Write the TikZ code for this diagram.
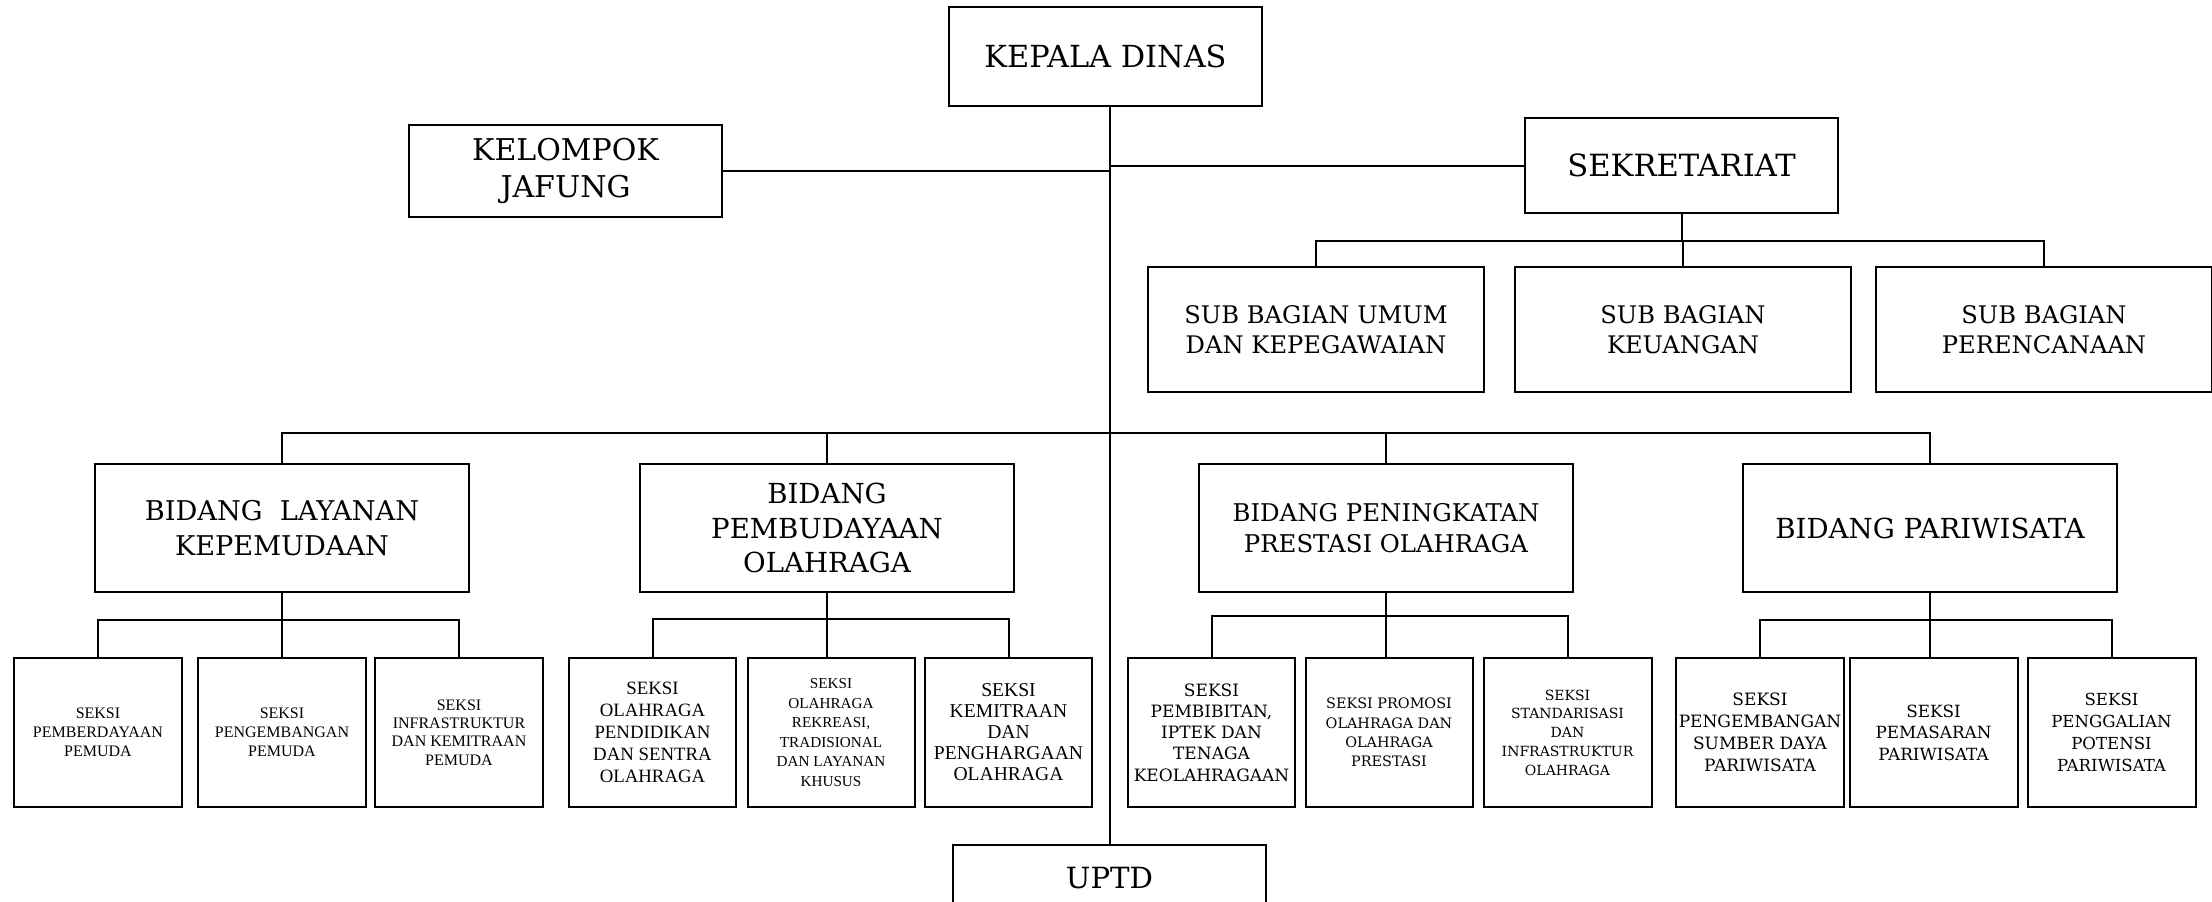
\documentclass[tikz,border=0pt]{standalone}
\usepackage{fontspec}
\setmainfont{DejaVu Serif}
\newfontfamily\tms{Liberation Serif}
\begin{document}
\begin{tikzpicture}[x=0.5pt,y=-0.5pt,
  box/.style={draw=black, line width=1pt, inner sep=0pt, align=center},
  topbox/.style={box, minimum width=156.5pt},
  bidbox/.style={box, minimum width=187pt, minimum height=64pt},
  subbox/.style={box, minimum width=168pt, minimum height=62.5pt, font=\fontsize{12.1}{15}\selectfont},
  sekbox/.style={box, minimum width=84pt, minimum height=74.5pt},
  link/.style={line width=1pt}]
\useasboundingbox (0,0) rectangle (2212,901);
\clip (0,0) rectangle (2212,901);
\fill[white] (0,0) rectangle (2212,901);
% top level
\node[topbox, minimum height=49.5pt, font=\fontsize{15.2}{18.5}\selectfont] (kepala) at (1105.5,56.5) {KEPALA DINAS};
\node[topbox, minimum height=46pt, font=\fontsize{15}{18.5}\selectfont] (kel) at (565.5,171) {KELOMPOK\\JAFUNG};
\node[topbox, minimum height=47.5pt, font=\fontsize{15.3}{18.5}\selectfont] (sekr) at (1681.5,165.5) {SEKRETARIAT};
\node[topbox, minimum height=33.5pt, font=\fontsize{14.6}{18}\selectfont] (uptd) at (1109.5,878.5) {UPTD};
% sub bagian
\node[subbox] (sub1) at (1316,329.5) {SUB BAGIAN UMUM\\DAN KEPEGAWAIAN};
\node[subbox] (sub2) at (1683,329.5) {SUB BAGIAN\\KEUANGAN};
\node[subbox] (sub3) at (2044,329.5) {SUB BAGIAN\\PERENCANAAN};
% bidang
\node[bidbox, font=\fontsize{13.6}{17.5}\selectfont] (b1) at (282,528) {BIDANG\ \ LAYANAN\\KEPEMUDAAN};
\node[bidbox, font=\fontsize{13.8}{17.2}\selectfont] (b2) at (827,528) {BIDANG\\PEMBUDAYAAN\\OLAHRAGA};
\node[bidbox, font=\fontsize{12.2}{15.3}\selectfont] (b3) at (1386,528) {BIDANG PENINGKATAN\\PRESTASI OLAHRAGA};
\node[bidbox, font=\fontsize{13.8}{16}\selectfont] (b4) at (1930,528) {BIDANG PARIWISATA};
% seksi group 1
\node[sekbox, font=\tms\fontsize{8}{9.5}\selectfont] (s11) at (98,732.5) {SEKSI\\PEMBERDAYAAN\\PEMUDA};
\node[sekbox, font=\tms\fontsize{8}{9.5}\selectfont] (s12) at (282,732.5) {SEKSI\\PENGEMBANGAN\\PEMUDA};
\node[sekbox, font=\tms\fontsize{8}{9.2}\selectfont] (s13) at (459,732.5) {SEKSI\\INFRASTRUKTUR\\DAN KEMITRAAN\\PEMUDA};
% seksi group 2
\node[sekbox, minimum width=83.5pt, font=\tms\fontsize{9.4}{11}\selectfont] (s21) at (652.5,732.5) {SEKSI\\OLAHRAGA\\PENDIDIKAN\\DAN SENTRA\\OLAHRAGA};
\node[sekbox, minimum width=83.5pt, font=\tms\fontsize{7.6}{9.8}\selectfont] (s22) at (831,732.5) {SEKSI\\OLAHRAGA\\REKREASI,\\TRADISIONAL\\DAN LAYANAN\\KHUSUS};
\node[sekbox, minimum width=83.5pt, font=\tms\fontsize{9.8}{10.5}\selectfont] (s23) at (1008.5,732.5) {SEKSI\\KEMITRAAN\\DAN\\PENGHARGAAN\\OLAHRAGA};
% seksi group 3
\node[sekbox, minimum width=83.5pt, font=\fontsize{8.5}{10.6}\selectfont] (s31) at (1211.5,732.5) {SEKSI\\PEMBIBITAN,\\IPTEK DAN\\TENAGA\\KEOLAHRAGAAN};
\node[sekbox, minimum width=83.5pt, font=\fontsize{7.2}{9.7}\selectfont] (s32) at (1389,732.5) {SEKSI PROMOSI\\OLAHRAGA DAN\\OLAHRAGA\\PRESTASI};
\node[sekbox, minimum width=84pt, font=\fontsize{7}{9.4}\selectfont] (s33) at (1567.5,732.5) {SEKSI\\STANDARISASI\\DAN\\INFRASTRUKTUR\\OLAHRAGA};
% seksi group 4
\node[sekbox, font=\fontsize{8.5}{11}\selectfont] (s41) at (1760,732.5) {SEKSI\\PENGEMBANGAN\\SUMBER DAYA\\PARIWISATA};
\node[sekbox, font=\fontsize{8.4}{10.7}\selectfont] (s42) at (1933.5,732.5) {SEKSI\\PEMASARAN\\PARIWISATA};
\node[sekbox, font=\fontsize{8.3}{11}\selectfont] (s43) at (2111.5,732.5) {SEKSI\\PENGGALIAN\\POTENSI\\PARIWISATA};
% bar levels
\coordinate (sbar) at (0,241);
\coordinate (mbar) at (0,433);
\coordinate (g1) at (0,620);
\coordinate (g2) at (0,619);
\coordinate (g3) at (0,616);
\coordinate (g4) at (0,620);
% connectors
\draw[link] (uptd.north) -- (uptd.north |- kepala.south);
\draw[link] (kel.east) -- (kel.east -| uptd.north);
\draw[link] (sekr.west) -- (sekr.west -| uptd.north);
\draw[link] (sekr.south) -- (sekr.south |- sbar);
\draw[link] (sub1.north) -- (sub1.north |- sbar) -- (sub3.north |- sbar) -- (sub3.north);
\draw[link] (sub2.north) -- (sub2.north |- sbar);
\draw[link] (b1.north) -- (b1.north |- mbar) -- (b4.north |- mbar) -- (b4.north);
\draw[link] (b2.north) -- (b2.north |- mbar);
\draw[link] (b3.north) -- (b3.north |- mbar);
\draw[link] (b1.south) -- (b1.south |- s12.north);
\draw[link] (s11.north) -- (s11.north |- g1) -- (s13.north |- g1) -- (s13.north);
\draw[link] (b2.south) -- (b2.south |- s22.north);
\draw[link] (s21.north) -- (s21.north |- g2) -- (s23.north |- g2) -- (s23.north);
\draw[link] (b3.south) -- (b3.south |- s32.north);
\draw[link] (s31.north) -- (s31.north |- g3) -- (s33.north |- g3) -- (s33.north);
\draw[link] (b4.south) -- (b4.south |- s42.north);
\draw[link] (s41.north) -- (s41.north |- g4) -- (s43.north |- g4) -- (s43.north);
\end{tikzpicture}
\end{document}
